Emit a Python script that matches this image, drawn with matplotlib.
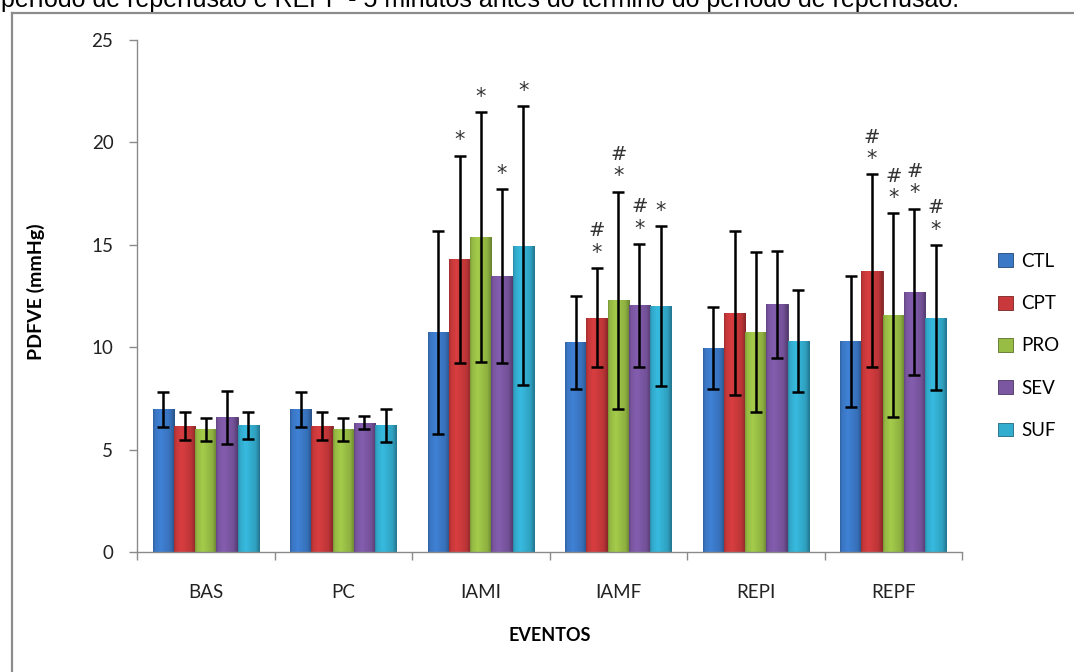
import numpy as np
import matplotlib
matplotlib.use("Agg")
import matplotlib.pyplot as plt
import matplotlib.colors as mcolors
from matplotlib.lines import Line2D

# ---------------- data ----------------
categories = ["BAS", "PC", "IAMI", "IAMF", "REPI", "REPF"]
series = ["CTL", "CPT", "PRO", "SEV", "SUF"]

ctl = [6.97, 6.97, 10.73, 10.24, 9.98, 10.30]
cpt = [6.15, 6.15, 14.29, 11.44, 11.65, 13.74]
pro = [5.99, 5.99, 15.40, 12.30, 10.73, 11.55]
sev = [6.58, 6.32, 13.48, 12.04, 12.09, 12.71]
suf = [6.18, 6.18, 14.96, 12.00, 10.29, 11.44]

ctl_err = [0.85, 0.85, 4.95, 2.28, 2.00, 3.20]
cpt_err = [0.70, 0.69, 5.07, 2.42, 4.00, 4.70]
pro_err = [0.57, 0.57, 6.10, 5.30, 3.90, 4.98]
sev_err = [1.30, 0.33, 4.23, 3.00, 2.60, 4.06]
suf_err = [0.65, 0.82, 6.83, 3.90, 2.50, 3.55]

# significance marks (* vs control, # second mark)
ctl_star = [0, 0, 0, 0, 0, 0]
cpt_star = [0, 0, 1, 1, 0, 1]
pro_star = [0, 0, 1, 1, 0, 1]
sev_star = [0, 0, 1, 1, 0, 1]
suf_star = [0, 0, 1, 1, 0, 1]
ctl_hash = [0, 0, 0, 0, 0, 0]
cpt_hash = [0, 0, 0, 1, 0, 1]
pro_hash = [0, 0, 0, 1, 0, 1]
sev_hash = [0, 0, 0, 1, 0, 1]
suf_hash = [0, 0, 0, 0, 0, 1]

yticks = [0, 5, 10, 15, 20, 25]
ylabel = "PDFVE (mmHg)"
xlabel = "EVENTOS"
caption = "período de reperfusão e REPF - 5 minutos antes do término do período de reperfusão."

values = [ctl, cpt, pro, sev, suf]
errors = [ctl_err, cpt_err, pro_err, sev_err, suf_err]
stars = [ctl_star, cpt_star, pro_star, sev_star, suf_star]
hashes = [ctl_hash, cpt_hash, pro_hash, sev_hash, suf_hash]
colors = ["#3b78c6", "#c9393b", "#98bd45", "#7b57a2", "#33adcf"]

# ---------------- figure ----------------
plt.rcParams['font.family'] = ['Lato', 'DejaVu Sans']
fig = plt.figure(figsize=(10.74, 6.72), dpi=100)
ax = fig.add_axes([137 / 1074, 1 - 552 / 672, (962 - 137) / 1074, (552 - 40) / 672])

x = np.arange(len(categories))
w = 0.154

tt = np.linspace(0, 1, 64)
fac = np.interp(tt, [0, 0.08, 0.35, 0.8, 1.0], [0.80, 0.97, 1.08, 0.93, 0.68])

for j, (vals, errs, col) in enumerate(zip(values, errors, colors)):
    pos = x + (j - 2) * w
    base = np.array(mcolors.to_rgb(col))
    edge = tuple(base * 0.6)
    bars = ax.bar(pos, vals, width=w, color=col, edgecolor=edge, linewidth=0.6,
                  label=series[j], zorder=2)
    grad = np.clip(base[None, :] * fac[:, None], 0, 1)[None, :, :]
    for b in bars:
        x0 = b.get_x()
        h = b.get_height()
        im = ax.imshow(grad, extent=[x0, x0 + w, 0, h], aspect='auto',
                       interpolation='bilinear', zorder=2.1)
        im.set_clip_path(b)
    ax.errorbar(pos, vals, yerr=errs, fmt='none', ecolor='black',
                elinewidth=1.8, capsize=4.5, capthick=1.8, zorder=3)
    for i in range(len(categories)):
        top = vals[i] + errs[i]
        if stars[j][i]:
            ax.text(pos[i], top + 0.25, "*", ha='center', va='bottom',
                    fontsize=15, family='DejaVu Sans', color='#333333', zorder=4)
        if hashes[j][i]:
            ax.text(pos[i], top + 1.35, "#", ha='center', va='bottom',
                    fontsize=14, family='DejaVu Sans', color='#333333', zorder=4)

ax.set_xlim(-0.5, len(categories) - 0.5)
ax.set_ylim(0, 25)
ax.set_yticks(yticks)
ax.set_yticklabels([str(v) for v in yticks])
ax.set_xticks(x)
ax.set_xticklabels(categories)
ax.set_xticks(np.arange(len(categories) + 1) - 0.5, minor=True)

for s in ['top', 'right']:
    ax.spines[s].set_visible(False)
for s in ['left', 'bottom']:
    ax.spines[s].set_color('#8a8a8a')
    ax.spines[s].set_linewidth(1.0)

ax.tick_params(axis='y', direction='out', length=6, width=1, color='#8a8a8a',
               labelsize=13.5, pad=11, labelcolor='#222222')
ax.tick_params(axis='x', which='major', length=0, labelsize=13.5, pad=23,
               labelcolor='#222222')
ax.tick_params(axis='x', which='minor', direction='out', length=6, width=1,
               color='#8a8a8a')

ax.set_ylabel(ylabel, fontsize=14, fontweight='bold')
ax.yaxis.set_label_coords((45 - 137) / 825, (552 - 292) / 512)
ax.set_xlabel(xlabel, fontsize=13, fontweight='bold', labelpad=19)

leg = fig.legend(loc='center left', bbox_to_anchor=(998 / 1074, 1 - 346 / 672),
                 frameon=False, fontsize=13.5, handlelength=0.8, handleheight=0.75,
                 handletextpad=0.45, labelspacing=1.35, borderaxespad=0, borderpad=0)

# frame of the embedded picture
bx = 12 / 1074
by = 1 - 13 / 672
fig.add_artist(Line2D([bx, bx], [0, by], transform=fig.transFigure,
                      color='#8c8c8c', linewidth=1.6))
fig.add_artist(Line2D([bx, 1], [by, by], transform=fig.transFigure,
                      color='#8c8c8c', linewidth=1.6))

fig.text(0.001, 1 - 7 / 672, caption, ha='left', va='baseline', fontsize=18,
         family='Liberation Sans', color='black')

fig.savefig("out.png", dpi=100)
